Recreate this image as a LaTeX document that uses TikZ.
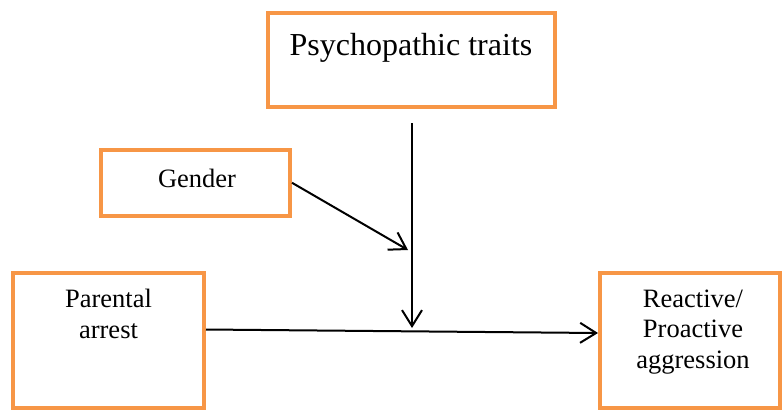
\documentclass[tikz,border=0pt]{standalone}
\usepackage{fontspec}
\setmainfont{Liberation Serif}
\usetikzlibrary{arrows.meta}
\definecolor{boxorange}{RGB}{247,150,70}
\tikzset{
  box/.style={draw=boxorange, line width=4pt, rectangle, inner sep=0pt},
  lbl/.style={anchor=base, align=center, inner sep=0pt, font=\fontsize{26.5}{30.5}\selectfont},
  conn/.style={line width=2pt, -{Straight Barb[length=16pt,width=20pt,line width=2pt]}}
}
\begin{document}
\begin{tikzpicture}[x=1pt,y=-1pt]
\useasboundingbox (0,0) rectangle (783,410);
\node[box, minimum width=287pt, minimum height=94.5pt] (psy) at (411.1,59.75) {};
\node[box, minimum width=189pt, minimum height=65.5pt] (gen) at (195.5,182.75) {};
\node[box, minimum width=191pt, minimum height=135.5pt] (par) at (108.5,340.25) {};
\node[box, minimum width=180pt, minimum height=135.5pt] (rea) at (690,340.25) {};
\node[lbl, font=\fontsize{32}{38}\selectfont] (psyt) at (411,55) {Psychopathic traits};
\node[lbl] (gent) at (197,187) {Gender};
\node[lbl] (part) at (108.5,338) {Parental\\arrest};
\node[lbl] (reat) at (693,368) {Reactive/\\Proactive\\aggression};
\coordinate (vs) at (412,123);
\coordinate (vt) at (412,328);
\coordinate (gt) at (408,250);
\coordinate (hy) at (0,329.5);
\coordinate (hz) at (0,333);
\draw[conn] (vs) -- (vt);
\draw[conn] (gen.east) -- (gt);
\draw[conn] (par.east |- hy) -- (rea.west |- hz);
\end{tikzpicture}
\end{document}
